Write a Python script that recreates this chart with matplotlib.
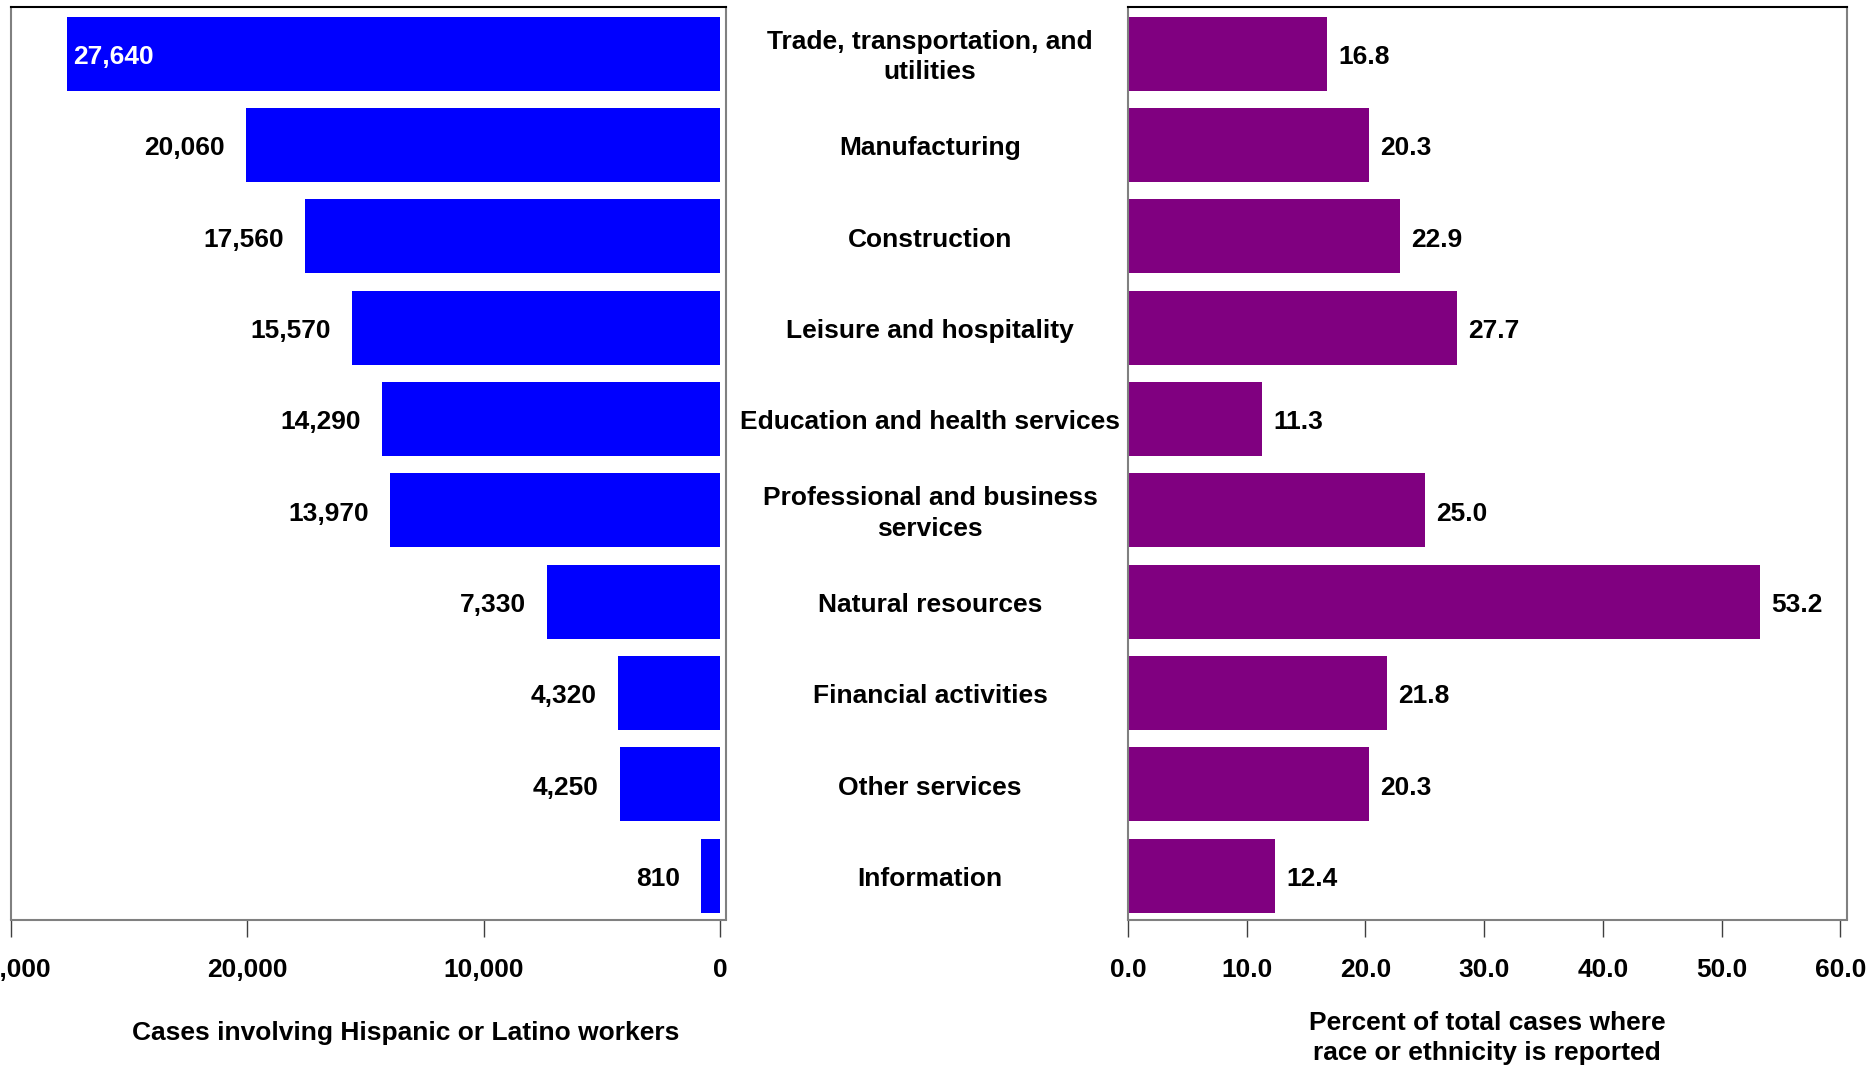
import matplotlib
matplotlib.use("Agg")
import matplotlib.pyplot as plt
import matplotlib.transforms as mtransforms

plt.rcParams['font.family'] = ['Liberation Sans', 'DejaVu Sans']
plt.rcParams['font.weight'] = 'bold'

categories = [
    "Trade, transportation, and\nutilities",
    "Manufacturing",
    "Construction",
    "Leisure and hospitality",
    "Education and health services",
    "Professional and business\nservices",
    "Natural resources",
    "Financial activities",
    "Other services",
    "Information",
]
cases = [27640, 20060, 17560, 15570, 14290, 13970, 7330, 4320, 4250, 810]
percent = [16.8, 20.3, 22.9, 27.7, 11.3, 25.0, 53.2, 21.8, 20.3, 12.4]
left_ticks = [30000, 20000, 10000, 0]
left_ticklabels = ["30,000", "20,000", "10,000", "0"]
right_ticks = [0, 10, 20, 30, 40, 50, 60]
right_ticklabels = ["0.0", "10.0", "20.0", "30.0", "40.0", "50.0", "60.0"]

W, H = 1870, 1065
fig = plt.figure(figsize=(W / 100, H / 100), dpi=100)
FS = 19

def frac_box(x0, x1, ytop, ybot):
    return [x0 / W, 1 - ybot / H, (x1 - x0) / W, (ybot - ytop) / H]

axL = fig.add_axes(frac_box(10.7, 726, 7, 919.5))
axR = fig.add_axes(frac_box(1128, 1847, 7, 919.5))

y = list(range(len(categories)))

axL.barh(y, cases, height=0.81, color='#0000FF')
axL.set_xlim(30000, -250)
axR.barh(y, percent, height=0.81, color='#800080')
axR.set_xlim(0, 60.55)

for ax in (axL, axR):
    ax.set_ylim(9.48, -0.51)
    ax.set_yticks([])
    ax.tick_params(axis='x', direction='out', length=12, width=1, color='#404040',
                   pad=16, labelsize=FS)
    for s in ('left', 'right', 'bottom'):
        ax.spines[s].set_color('#808080')
        ax.spines[s].set_linewidth(1.5)
    ax.spines['top'].set_color('black')
    ax.spines['top'].set_linewidth(1.5)

axL.set_xticks(left_ticks)
axL.set_xticklabels(left_ticklabels, fontweight='bold')
axR.set_xticks(right_ticks)
axR.set_xticklabels(right_ticklabels, fontweight='bold')

DY = -2.5
for i, v in enumerate(cases):
    if i == 0:
        axL.annotate(f"{v:,}", (v, i), xytext=(4.5, DY), textcoords='offset points',
                     ha='left', va='center', color='white', fontsize=FS, fontweight='bold')
    else:
        axL.annotate(f"{v:,}", (v, i), xytext=(-15, DY), textcoords='offset points',
                     ha='right', va='center', color='black', fontsize=FS, fontweight='bold')

for i, v in enumerate(percent):
    axR.annotate(f"{v:.1f}", (v, i), xytext=(8, DY), textcoords='offset points',
                 ha='left', va='center', color='black', fontsize=FS, fontweight='bold')

trans = mtransforms.blended_transform_factory(fig.transFigure, axL.transData)
trans = trans + mtransforms.ScaledTranslation(0, DY / 72, fig.dpi_scale_trans)
for i, c in enumerate(categories):
    fig.text(930 / W, i, c, transform=trans, ha='center', va='center',
             multialignment='center', fontsize=FS, fontweight='bold', linespacing=1.35)

fig.text(406 / W, 1 - 1033 / H, "Cases involving Hispanic or Latino workers",
         ha='center', va='center', fontsize=FS, fontweight='bold')
fig.text(1487 / W, 1 - 1038 / H, "Percent of total cases where\nrace or ethnicity is reported",
         ha='center', va='center', multialignment='center', fontsize=FS,
         fontweight='bold', linespacing=1.3)

fig.savefig("out.png", dpi=100)
